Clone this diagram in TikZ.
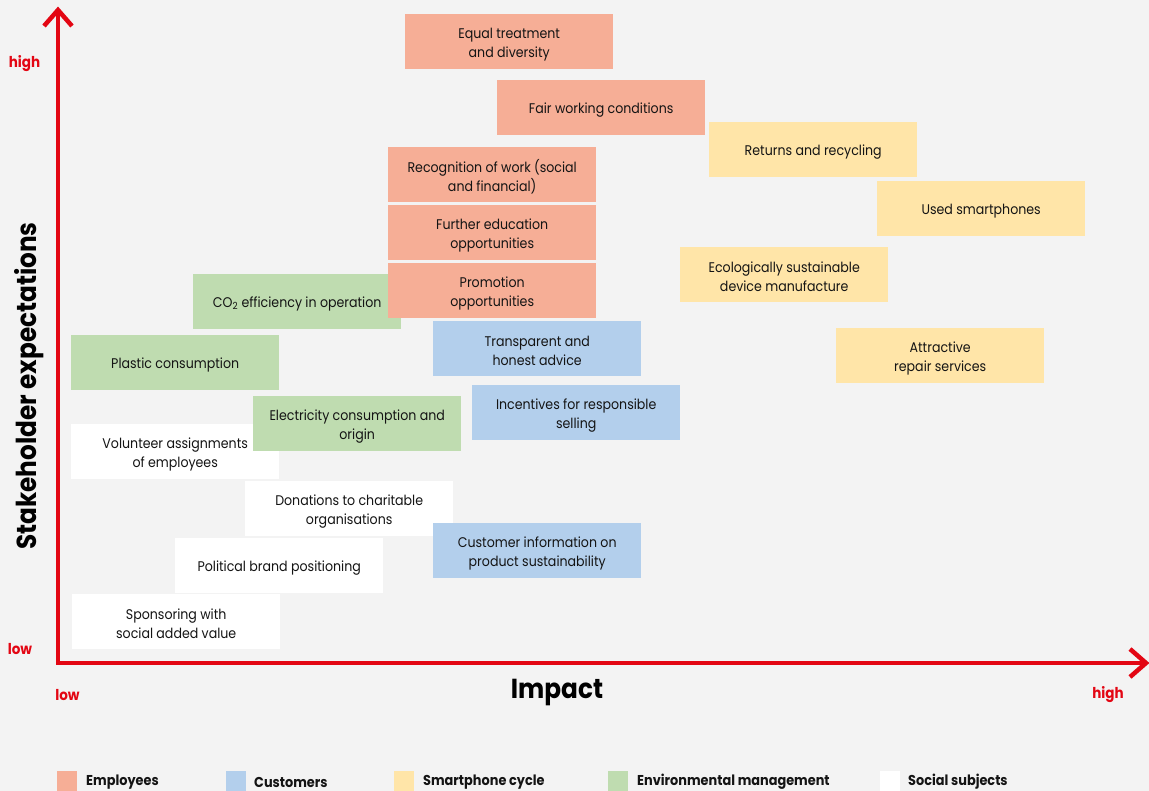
\documentclass[tikz,border=0pt]{standalone}
\usepackage{fontspec}
\setmainfont{Poppins}[FakeStretch=0.9]
\usetikzlibrary{calc}
\definecolor{bg}{HTML}{F3F3F3}
\definecolor{axisred}{HTML}{E30613}
\definecolor{ink}{HTML}{141414}
\definecolor{emp}{HTML}{F6AE96}
\definecolor{cus}{HTML}{B3CFEC}
\definecolor{cyc}{HTML}{FFE5A8}
\definecolor{env}{HTML}{BFDCB0}
\definecolor{soc}{HTML}{FFFFFF}
\begin{document}
\begin{tikzpicture}[x=1pt,y=-1pt,
  box/.style={minimum width=208pt, minimum height=55pt, inner sep=0pt, anchor=north west,
    label={[boxtext]center:#1}},
  boxtext/.style={align=center, text=ink, yshift=-2.5pt, inner sep=0pt,
    font=\fontsize{14}{19}\selectfont},
  empbox/.style={box={#1}, fill=emp},
  cusbox/.style={box={#1}, fill=cus},
  cycbox/.style={box={#1}, fill=cyc},
  envbox/.style={box={#1}, fill=env},
  socbox/.style={box={#1}, fill=soc},
  axisline/.style={draw=axisred, line width=4.5pt, line join=miter},
  axislabel/.style={text=axisred, font=\bfseries\fontsize{15}{17}\selectfont},
  title/.style={text=black, font=\bfseries\fontsize{27.5}{30}\selectfont},
  legsq/.style={minimum width=20pt, minimum height=20pt, inner sep=0pt, anchor=north west},
  legtext/.style={anchor=west, inner sep=0pt, text=ink, font=\bfseries\fontsize{14.3}{16}\selectfont}
]
\fill[bg] (0,0) rectangle (1149,791);
\useasboundingbox (0,0) rectangle (1149,791);

% axes
\coordinate (O) at (58,663);
\coordinate (ytip) at (58,10);
\coordinate (xtip) at (1146,663);
\draw[axisline] (ytip) -- (O) -- (xtip);
\draw[axisline] ($(ytip)+(-14,16)$) -- (ytip) -- ($(ytip)+(14,16)$);
\draw[axisline] ($(xtip)+(-16,-14)$) -- (xtip) -- ($(xtip)+(-16,14)$);

\node[axislabel] (yhigh) at (24.5,64) {high};
\node[axislabel] (ylow) at (20,649) {low};
\node[axislabel] (xlow) at (67.5,695) {low};
\node[axislabel] (xhigh) at (1108,695) {high};
\node[title] (impact) at (557,693) {Impact};
\node[title, rotate=90] (stake) at (29,386) {Stakeholder expectations};

% boxes
\node[empbox={Equal treatment\\and diversity}] (equal) at (405,14) {};
\node[empbox={Fair working conditions}] (fair) at (497,80) {};
\node[cycbox={Returns and recycling}] (returns) at (709,122) {};
\node[empbox={Recognition of work (social\\and financial)}] (recog) at (388,147) {};
\node[cycbox={Used smartphones}] (used) at (877,181) {};
\node[empbox={Further education\\opportunities}] (further) at (388,205) {};
\node[cycbox={Ecologically sustainable\\device manufacture}] (eco) at (680,247) {};
\node[envbox={CO\textsubscript{2} efficiency in operation}] (co2) at (193,274) {};
\node[empbox={Promotion\\opportunities}] (promo) at (388,263) {};
\node[cusbox={Transparent and\\honest advice}] (transp) at (433,321) {};
\node[cycbox={Attractive\\repair services}] (repair) at (836,328) {};
\node[envbox={Plastic consumption}] (plastic) at (71,335) {};
\node[cusbox={Incentives for responsible\\selling}] (incent) at (472,385) {};
\node[socbox={Volunteer assignments\\of employees}] (volunteer) at (71,424) {};
\node[envbox={Electricity consumption and\\origin}] (elec) at (253,396) {};
\node[socbox={Donations to charitable\\organisations}] (donations) at (245,481) {};
\node[cusbox={Customer information on\\product sustainability}] (custinfo) at (433,523) {};
\node[socbox={Political brand positioning}] (political) at (175,538) {};
\node[socbox={Sponsoring with\\social added value}] (sponsor) at (72,594) {};

% legend
\node[legsq, fill=emp] (lemp) at (57,771) {};
\node[legtext] (lempt) at (86,782) {Employees};
\node[legsq, fill=cus] (lcus) at (226,771) {};
\node[legtext] (lcust) at (254,782) {Customers};
\node[legsq, fill=cyc] (lcyc) at (394,771) {};
\node[legtext] (lcyct) at (423,782) {Smartphone cycle};
\node[legsq, fill=env] (lenv) at (608,771) {};
\node[legtext] (lenvt) at (637,782) {Environmental management};
\node[legsq, fill=soc] (lsoc) at (880,771) {};
\node[legtext] (lsoct) at (908,782) {Social subjects};
\end{tikzpicture}
\end{document}
